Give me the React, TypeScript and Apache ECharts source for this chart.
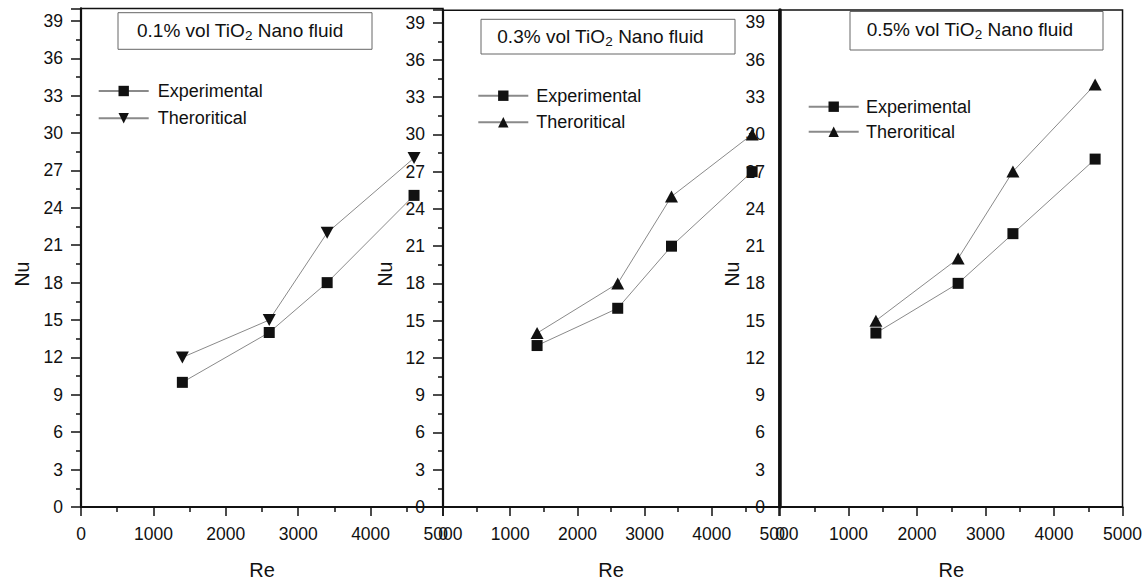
import React, { useEffect, useRef } from "react";
import * as echarts from "echarts";

// Reynolds numbers (x values) shared by all panels
const reValues = [1400, 2600, 3400, 4600];
// Panel 1: 0.1% vol TiO2
const exp1 = [10, 14, 18, 25];
const theo1 = [12, 15, 22, 28];
// Panel 2: 0.3% vol TiO2
const exp2 = [13, 16, 21, 27];
const theo2 = [14, 18, 25, 30];
// Panel 3: 0.5% vol TiO2
const exp3 = [14, 18, 22, 28];
const theo3 = [15, 20, 27, 34];

const concentrations = ["0.1%", "0.3%", "0.5%"];
const seriesNames = ["Experimental", "Theroritical"];

const FONT = "'Liberation Sans', Arial, Helvetica, sans-serif";
const INK = "#111";
const LINE = "#8a8a8a";

const grids = [
  { left: 81, top: 8.4, width: 362, height: 504 },
  { left: 443, top: 10.2, width: 336, height: 502.2 },
  { left: 780, top: 10, width: 348, height: 502.4 },
];

const boxes = [
  { x: 118, y: 12.7, w: 254, h: 36.6, tx: 137, ty: 30 },
  { x: 481, y: 19.3, w: 254, h: 34.7, tx: 497.3, ty: 36 },
  { x: 850, y: 11.5, w: 253, h: 38.5, tx: 866.7, ty: 29.5 },
];

const legends = [
  { left: 97.7, top: 81, gap: 7.3, pad: 4 },
  { left: 477.3, top: 85.7, gap: 6.6, pad: 3 },
  { left: 807.7, top: 96.7, gap: 5, pad: 2.3 },
];

const nuPos = [
  { x: 21.7, y: 274 },
  { x: 385, y: 274 },
  { x: 731.7, y: 274 },
];

const downTri = "path://M0,0L10,0L5,9Z";

export default function App() {
  const ref = useRef<HTMLDivElement>(null);
  useEffect(() => {
    if (!ref.current) return;
    const chart = echarts.init(ref.current, null, { renderer: "svg" });
    const expData = [exp1, exp2, exp3];
    const theoData = [theo1, theo2, theo3];

    const xAxis = grids.map((_, i) => ({
      type: "value",
      gridIndex: i,
      min: 0,
      max: 5000,
      interval: 1000,
      name: "Re",
      nameLocation: "middle",
      nameGap: 53,
      nameTextStyle: { fontSize: 20, color: INK, fontFamily: FONT },
      axisLine: { show: true, onZero: false, lineStyle: { color: INK, width: 2 } },
      axisTick: { show: true, inside: false, length: 9, lineStyle: { color: INK, width: 1.5 } },
      minorTick: { show: true, splitNumber: 2, length: 5, lineStyle: { color: INK, width: 1.5 } },
      axisLabel: {
        fontSize: 17.5,
        color: INK,
        fontFamily: FONT,
        margin: 18,
        formatter: (v: number) => String(v),
      },
      splitLine: { show: false },
      minorSplitLine: { show: false },
    }));

    const yAxis = grids.map((_, i) => ({
      type: "value",
      gridIndex: i,
      min: 0,
      max: 40,
      interval: 3,
      axisLine: { show: true, onZero: false, lineStyle: { color: INK, width: i === 2 ? 3.5 : 2.2 } },
      axisTick: { show: i !== 2, inside: false, length: 10, lineStyle: { color: INK, width: 1.5 } },
      minorTick: { show: i !== 2, splitNumber: 2, length: 5, lineStyle: { color: INK, width: 1.5 } },
      axisLabel: {
        fontSize: 17.5,
        color: INK,
        fontFamily: FONT,
        margin: i === 2 ? 15 : 18,
        showMaxLabel: false,
        formatter: (v: number) => String(v),
      },
      splitLine: { show: false },
      minorSplitLine: { show: false },
    }));

    const series: any[] = [];
    grids.forEach((_, i) => {
      series.push({
        name: `${seriesNames[0]}#${i}`,
        type: "line",
        xAxisIndex: i,
        yAxisIndex: i,
        data: reValues.map((x, k) => [x, expData[i][k]]),
        symbol: "rect",
        symbolSize: 11,
        itemStyle: { color: INK },
        lineStyle: { color: LINE, width: 1 },
        z: 3,
      });
      series.push({
        name: `${seriesNames[1]}#${i}`,
        type: "line",
        xAxisIndex: i,
        yAxisIndex: i,
        data: reValues.map((x, k) => [x, theoData[i][k]]),
        symbol: i === 0 ? downTri : "triangle",
        symbolSize: [13, 12],
        itemStyle: { color: INK },
        lineStyle: { color: LINE, width: 1 },
        z: 3,
      });
    });

    const legend = legends.map((l, i) => ({
      data: seriesNames.map((n) => `${n}#${i}`),
      orient: "vertical",
      left: l.left,
      top: l.top,
      padding: 0,
      itemWidth: 50,
      itemHeight: 13,
      itemGap: l.gap,
      selectedMode: false,
      formatter: (name: string) => name.split("#")[0],
      textStyle: {
        fontSize: 18,
        color: INK,
        fontFamily: FONT,
        lineHeight: 20,
        padding: [0, 0, 0, l.pad],
      },
    }));

    const graphic: any[] = [];
    boxes.forEach((b, i) => {
      graphic.push({
        type: "rect",
        shape: { x: b.x, y: b.y, width: b.w, height: b.h },
        style: { fill: "#fff", stroke: "#666", lineWidth: 1 },
        z: 10,
      });
      graphic.push({
        type: "text",
        x: b.tx,
        y: b.ty,
        z: 11,
        style: {
          text: `{a|${concentrations[i]} vol TiO}{s|2}{a| Nano fluid}`,
          align: "left",
          verticalAlign: "middle",
          fill: INK,
          rich: {
            a: { fontSize: 19, fontFamily: FONT, fill: INK, lineHeight: 24 },
            s: { fontSize: 13.5, fontFamily: FONT, fill: INK, lineHeight: 10, verticalAlign: "bottom" },
          },
        },
      });
    });
    nuPos.forEach((p) => {
      graphic.push({
        type: "text",
        x: p.x,
        y: p.y,
        rotation: Math.PI / 2,
        z: 11,
        style: {
          text: "Nu",
          fontSize: 19.5,
          fontFamily: FONT,
          fill: INK,
          align: "center",
          verticalAlign: "middle",
        },
      });
    });

    chart.setOption({
      animation: false,
      backgroundColor: "#fff",
      grid: grids.map((g) => ({
        ...g,
        show: true,
        borderColor: INK,
        borderWidth: 1.5,
        backgroundColor: "transparent",
        containLabel: false,
      })),
      xAxis,
      yAxis,
      legend,
      series,
      graphic,
    });
    return () => chart.dispose();
  }, []);

  return (
    <div
      ref={ref}
      style={{ position: "fixed", left: 0, top: 0, width: 1145, height: 585, background: "#fff" }}
    />
  );
}
